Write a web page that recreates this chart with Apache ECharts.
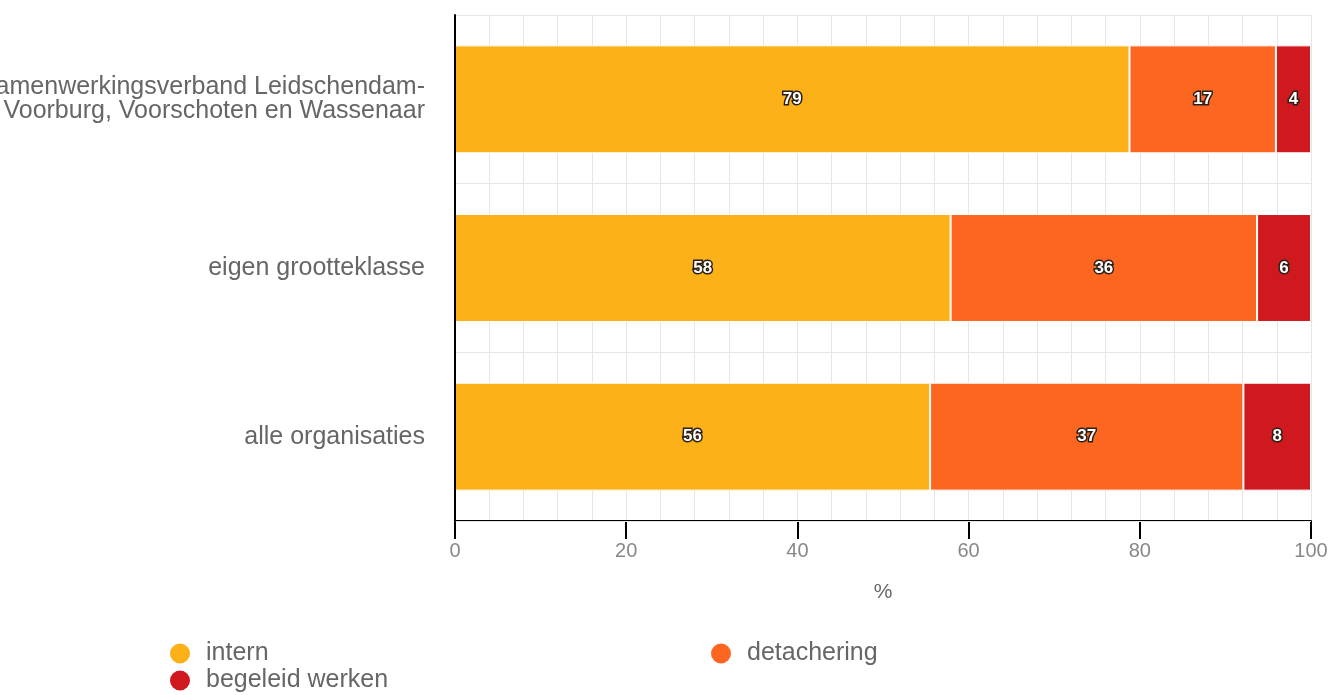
<!DOCTYPE html>
<html><head><meta charset="utf-8">
<script src="https://cdn.jsdelivr.net/npm/echarts@6/dist/echarts.min.js"></script>
<style>html,body{margin:0;padding:0;background:#fff}#c{width:1331px;height:695px}</style>
</head><body><div id="c"></div>
<script>
var categories = ['Samenwerkingsverband Leidschendam-\nVoorburg, Voorschoten en Wassenaar', 'eigen grootteklasse', 'alle organisaties'];
var intern = [78.8, 57.9, 55.5];
var detachering = [17.1, 35.8, 36.6];
var begeleidWerken = [4.1, 6.3, 7.9];
var xTicks = [0, 20, 40, 60, 80, 100];

var FONT = '"Liberation Sans", Arial, sans-serif';
var chart = echarts.init(document.getElementById('c'), null, {renderer: 'canvas'});
function lbl() {
  return {
    show: true, position: 'inside', color: '#fff', fontWeight: 'bold', fontSize: 17,
    fontFamily: FONT,
    textBorderColor: '#2b2018', textBorderWidth: 3,
    formatter: function (p) { return Math.round(p.value); }
  };
}
function ser(name, data, color) {
  return {
    name: name, type: 'bar', stack: 'total', data: data, barWidth: '64%',
    itemStyle: {color: color, borderColor: '#fff', borderWidth: 1},
    label: lbl(), emphasis: {disabled: true}
  };
}
var legendText = {color: '#666', fontSize: 25, lineHeight: 24, fontFamily: FONT, padding: [0, 0, 0, 10]};
chart.setOption({
  animation: false,
  textStyle: {fontFamily: FONT},
  grid: {left: 455, right: 20, top: 15, bottom: 174, containLabel: false, outerBoundsMode: 'none'},
  xAxis: {
    type: 'value', min: 0, max: 100, interval: 20,
    name: '%', nameLocation: 'middle', nameGap: 61,
    nameTextStyle: {color: '#666', fontSize: 21, fontFamily: FONT},
    axisLine: {show: true, lineStyle: {color: '#000', width: 2}},
    axisTick: {show: true, length: 18, lineStyle: {color: '#000', width: 2}},
    axisLabel: {color: '#888', fontSize: 20, margin: 20, fontFamily: FONT,
      formatter: function (v) { return xTicks.indexOf(v) >= 0 ? String(v) : ''; }},
    splitLine: {show: true, lineStyle: {color: '#e6e6e6', width: 1}},
    minorTick: {show: false, splitNumber: 5},
    minorSplitLine: {show: true, lineStyle: {color: '#e6e6e6', width: 1}}
  },
  yAxis: {
    type: 'category', data: categories, inverse: true, z: 3,
    axisLine: {show: true, lineStyle: {color: '#000', width: 2}},
    axisTick: {show: false},
    axisLabel: {color: '#666', fontSize: 25, margin: 30, lineHeight: 24, fontFamily: FONT, align: 'right',
      padding: [9, 0, 0, 0]},
    splitLine: {show: true, lineStyle: {color: '#e6e6e6', width: 1}}
  },
  legend: [
    {data: ['intern', 'begeleid werken'], orient: 'vertical', left: 168, top: 641, padding: 0,
     icon: 'circle', itemWidth: 22, itemHeight: 22, itemGap: 2,
     textStyle: legendText, selectedMode: false},
    {data: ['detachering'], orient: 'vertical', left: 709, top: 641, padding: 0,
     icon: 'circle', itemWidth: 22, itemHeight: 22,
     textStyle: legendText, selectedMode: false}
  ],
  series: [
    ser('intern', intern, '#fbb117'),
    ser('detachering', detachering, '#fd6621'),
    ser('begeleid werken', begeleidWerken, '#d0181f')
  ]
});
</script></body></html>
